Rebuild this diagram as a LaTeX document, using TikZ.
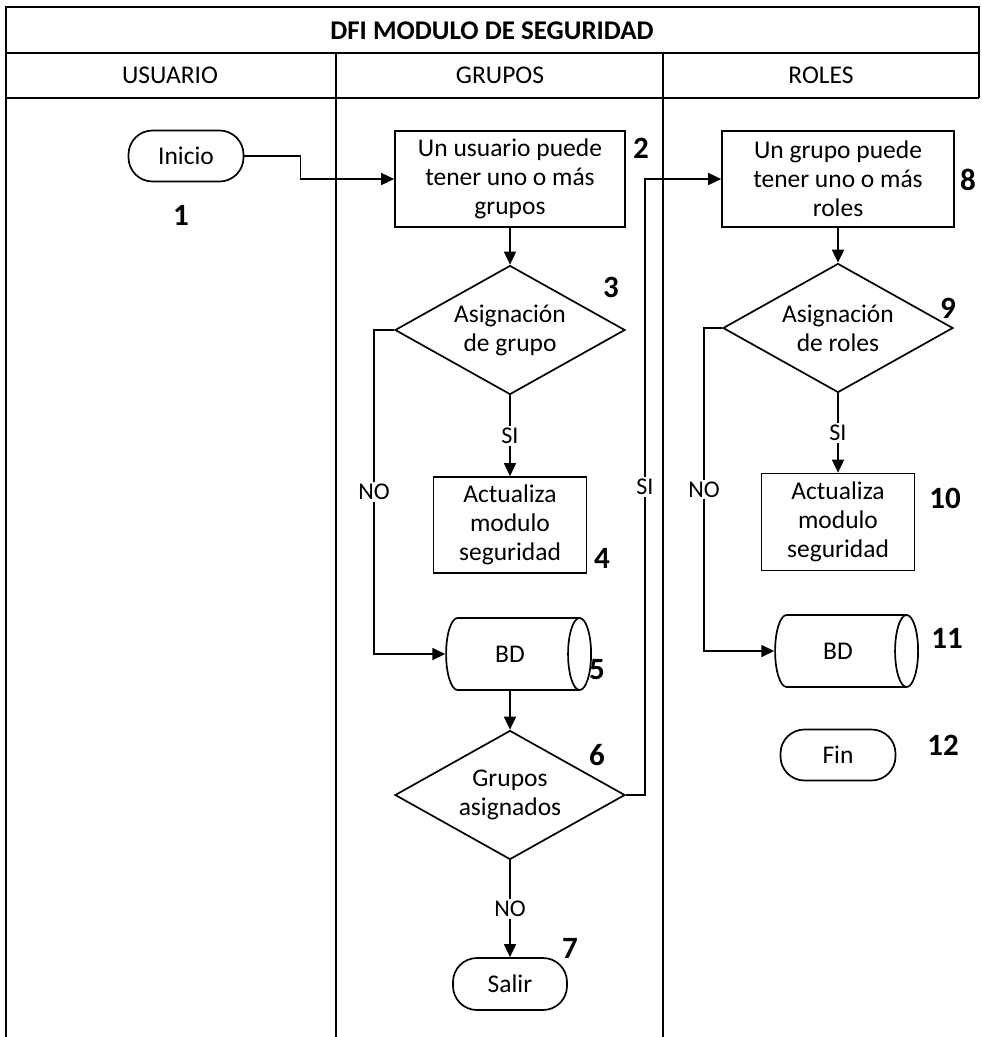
\documentclass[tikz,border=0pt]{standalone}
\usepackage{fontspec}
\setmainfont{Carlito}
\usetikzlibrary{shapes.geometric,arrows.meta}

\def\nlist{{(181,215)/1}, {(641,148)/2}, {(611,287)/3}, {(602,558)/4}, {(597,670)/5}, {(597,755)/6}, {(570,948)/7}, {(968,180)/8}, {(948,308)/9}, {(945,498)/10}, {(947,638)/11}, {(943,745)/12}}
\tikzstyle{edge} = [draw, line width=1.7pt, -{Triangle[length=13pt,width=12pt]}]
\tikzstyle{grid} = [draw, line width=2.4pt]
\tikzstyle{txt} = [font=\fontsize{25.5}{29}\selectfont, align=center]
\tikzstyle{block} = [txt, rectangle, draw, line width=1.7pt, inner sep=0pt]
\tikzstyle{terminal} = [txt, rectangle, rounded corners=24pt, draw, line width=1.7pt, minimum width=115pt, minimum height=51pt]
\tikzstyle{decision} = [txt, diamond, draw, line width=1.7pt, aspect=1.78, inner sep=0pt, minimum width=230pt, minimum height=129pt]
\tikzstyle{store} = [txt, cylinder, draw, line width=1.7pt, aspect=1.0, minimum height=145pt, minimum width=72pt]
\tikzstyle{lbl} = [font=\fontsize{24}{28}\selectfont, fill=white, inner sep=2pt]
\tikzstyle{num} = [font=\fontsize{31}{31}\selectfont\bfseries]

\begin{document}
\begin{tikzpicture}[x=1pt, y=-1pt]
  \useasboundingbox (0,0) rectangle (982,1037);

  % table
  \draw[grid] (6,1037) -- (6,7) -- (979,7) -- (979,98);
  \draw[grid] (6,53) -- (979,53);
  \draw[grid] (6,98) -- (979,98);
  \draw[grid] (336,53) -- (336,1037);
  \draw[grid] (663,53) -- (663,1037);
  \node[font=\fontsize{27}{27}\selectfont\bfseries] (title) at (492,31) {DFI MODULO DE SEGURIDAD};
  \node[txt] (husuario) at (170,75) {USUARIO};
  \node[txt] (hgrupos) at (500,75) {GRUPOS};
  \node[txt] (hroles) at (821,75) {ROLES};

  % flow
  \node[terminal] (inicio) at (186,156) {Inicio};
  \node[block, minimum width=230pt, minimum height=96pt] (b2) at (510,179) {Un usuario puede\\tener uno o más\\grupos};
  \node[decision] (d3) at (510,330) {Asignación\\de grupo};
  \node[block, minimum width=153pt, minimum height=96pt] (b4) at (510,525) {Actualiza\\modulo\\seguridad};
  \node[store] (bd5) at (510,654) {BD};
  \node[decision] (d6) at (510,795) {Grupos\\asignados};
  \node[terminal, minimum width=114pt, minimum height=52pt] (salir) at (510,984) {Salir};

  \node[block, minimum width=232pt, minimum height=96pt] (b8) at (838,179) {Un grupo puede\\tener uno o más\\roles};
  \node[decision] (d9) at (838,328) {Asignación\\de roles};
  \node[block, minimum width=153pt, minimum height=97pt] (b10) at (838,522) {Actualiza\\modulo\\seguridad};
  \node[store, minimum height=143pt] (bd11) at (838,651) {BD};
  \node[terminal] (fin) at (838,755) {Fin};

  \foreach \pos/\name in \nlist {
    \node[num] (n\name) at \pos {\name};
  }

  \foreach \source/\sink in {b2/d3, bd5/d6, b8/d9} {
    \path[edge] (\source.south) -- (\sink.north);
  }
  \path[edge] (d3.south) -- node[lbl] {SI} (b4.north);
  \path[edge] (d6.south) -- node[lbl] {NO} (salir.north);
  \path[edge] (d9.south) -- node[lbl] {SI} (b10.north);

  \path[edge] (inicio.east) -- ++(56,0) |- (b2.west);
  \path[edge] (d3.west) -- ++(-20,0) |- node[lbl, pos=0.25] {NO} (bd5.west);
  \path[edge] (d6.east) -- ++(19,0) |- node[lbl, pos=0.25] {SI} (b8.west);
  \path[edge] (d9.west) -- ++(-18,0) |- node[lbl, pos=0.25] {NO} (bd11.west);
\end{tikzpicture}
\end{document}
